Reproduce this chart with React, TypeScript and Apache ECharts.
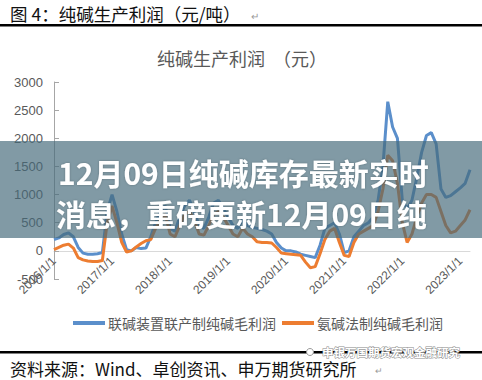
import React, { useEffect, useRef } from "react";
import * as echarts from "echarts";

// ---- data (monthly, 2016/1 .. 2023/3) ----
const startYear = 2016;
const monthCount = 87;
const categories: string[] = [];
for (let i = 0; i < monthCount; i++) {
  const y = startYear + Math.floor(i / 12);
  const m = (i % 12) + 1;
  categories.push(`${y}/${m}/1`);
}

const seriesNames = ["联碱装置联产制纯碱毛利润", "氨碱法制纯碱毛利润"];

const jointAlkali = [
  200, 230, 290, 320, 250, 60, -40, -60, -60, -50, -30, 700,
  1000, 700, 300, 20, 0, 60, 40, 50, 250, 500, 700, 800,
  400, 350, 600, 800, 900, 700, 450, 400, 600, 850, 900, 750,
  600, 450, 400, 550, 450, 420, 400, 380, 350, 300, 150, 50,
  0, 0, -20, -60, -80, -100, -120, 100, 400, 450, 500, 300,
  -30, 0, 250, 350, 450, 500, 600, 900, 1500, 2650, 2200, 2000,
  900, 750, 900, 1300, 1750, 2050, 2100, 1900, 1100, 950, 980, 1050,
  1120, 1200, 1440,
];

const ammoniaSoda = [
  20, 60, 100, 120, 50, -120, -160, -180, -190, -190, -170, 500,
  800, 500, 150, -20, 0, 70, 130, 180, 200, 400, 550, 650,
  300, 250, 450, 650, 700, 550, 300, 280, 450, 650, 700, 600,
  450, 300, 250, 400, 300, 250, 160, 150, 150, 140, 60, -40,
  -50, -60, -70, -80, -200, -300, -280, -50, 200, 350, 400, 150,
  -80, -100, 150, 300, 350, 400, 450, 700, 1100, 1700, 1600, 1200,
  500, 150, 300, 600, 850, 1000, 1000, 950, 700, 450, 320, 350,
  450, 550, 730,
];

const yMin = -500;
const yMax = 3000;
const yStep = 500;

const docTitle = "图 4：纯碱生产利润（元/吨）";
const chartTitle = "纯碱生产利润  （元）";
const sourceText = "资料来源：Wind、卓创资讯、申万期货研究所";
const bannerLine1 = "12月09日纯碱库存最新实时";
const bannerLine2 = "消息，重磅更新12月09日纯";
const watermark = "申银万国期货宏观金融研究";

const CJK = '"Noto Sans CJK SC", "Noto Sans", sans-serif';
const NUM = '"Liberation Sans", Arial, "Noto Sans CJK SC", sans-serif';

const GRID_TOP = 82;
const GRID_BOTTOM = 101;
const GRID_H = 380 - GRID_TOP - GRID_BOTTOM;
const zeroOffset = -(GRID_H * (0 - yMin)) / (yMax - yMin);

export default function App() {
  const ref = useRef<HTMLDivElement>(null);
  useEffect(() => {
    if (!ref.current) return;
    const chart = echarts.init(ref.current, undefined, { renderer: "svg" });
    const txt = (
      text: string,
      x: number,
      y: number,
      size: number,
      fill: string,
      extra: any = {}
    ) => ({
      type: "text",
      x,
      y,
      z: 100,
      silent: true,
      style: {
        text,
        fill,
        fontSize: size,
        fontFamily: CJK,
        textAlign: "left",
        align: "left",
        textVerticalAlign: "middle",
        verticalAlign: "middle",
        ...extra,
      },
    });
    chart.setOption({
      animation: false,
      backgroundColor: "#ffffff",
      grid: { left: 54, right: 12, top: GRID_TOP, bottom: GRID_BOTTOM, containLabel: false },
      legend: {
        left: 73,
        top: 316,
        padding: 0,
        icon: "rect",
        itemWidth: 32,
        itemHeight: 4,
        itemGap: 6,
        textStyle: { fontSize: 14, color: "#595959", fontFamily: CJK, padding: [0, 0, 0, -2] },
        data: seriesNames,
      },
      xAxis: {
        type: "category",
        data: categories,
        boundaryGap: false,
        position: "bottom",
        offset: zeroOffset,
        axisLine: { onZero: false, lineStyle: { color: "#d9d9d9", width: 1 } },
        axisTick: { show: false },
        axisLabel: {
          interval: 11,
          rotate: 45,
          margin: 8,
          fontSize: 12,
          color: "#595959",
          fontFamily: NUM,
        },
        splitLine: { show: false },
      },
      yAxis: {
        type: "value",
        min: yMin,
        max: yMax,
        interval: yStep,
        axisLine: { show: true, onZero: false, lineStyle: { color: "#a6a6a6", width: 1 } },
        axisTick: { show: true, inside: true, length: 5, lineStyle: { color: "#a6a6a6" } },
        axisLabel: {
          fontSize: 13,
          color: "#595959",
          margin: 11,
          fontFamily: NUM,
          formatter: (v: number) => String(v),
        },
        splitLine: { show: false },
      },
      series: [
        {
          name: seriesNames[0],
          type: "line",
          data: jointAlkali,
          symbol: "none",
          color: "#5b8fcb",
          lineStyle: { width: 3, color: "#5b8fcb" },
        },
        {
          name: seriesNames[1],
          type: "line",
          data: ammoniaSoda,
          symbol: "none",
          color: "#ed7d31",
          lineStyle: { width: 3, color: "#ed7d31" },
        },
      ],
      graphic: {
        elements: [
          txt(docTitle, 10, 13, 17.5, "#111111"),
          txt("↵", 251, 15, 10, "#9a9a9a"),
          {
            type: "rect",
            z: 100,
            silent: true,
            shape: { x: 0, y: 24, width: 482, height: 2.5 },
            style: { fill: "#000000" },
          },
          txt(chartTitle, 157, 58, 18, "#595959"),
          {
            type: "rect",
            z: 100,
            silent: true,
            shape: { x: 0, y: 141, width: 482, height: 97 },
            style: { fill: "rgba(70,106,122,0.68)" },
          },
          txt(bannerLine1, 58, 172, 30, "#ffffff", {
            fontWeight: "bold",
            textShadowColor: "rgba(0,0,0,0.25)",
            textShadowBlur: 2,
          }),
          txt(bannerLine2, 56, 213, 30, "#ffffff", {
            fontWeight: "bold",
            textShadowColor: "rgba(0,0,0,0.25)",
            textShadowBlur: 2,
          }),
          {
            type: "rect",
            z: 100,
            silent: true,
            shape: { x: 0, y: 351, width: 482, height: 2.5 },
            style: { fill: "#000000" },
          },
          {
            type: "circle",
            z: 101,
            silent: true,
            shape: { cx: 310, cy: 352, r: 3.5 },
            style: { fill: "#ffffff", stroke: "#999999", lineWidth: 1 },
          },
          txt(watermark, 322, 352, 11.5, "#ffffff", {
            stroke: "#8a8a8a",
            lineWidth: 1,
            fontWeight: "bold",
          }),
          txt(sourceText, 10, 368, 17, "#111111"),
          txt("↵", 375, 370, 9, "#9a9a9a"),
        ],
      },
    });
    return () => chart.dispose();
  }, []);
  return (
    <div
      ref={ref}
      style={{ position: "absolute", left: 0, top: 0, width: 482, height: 380 }}
    />
  );
}
